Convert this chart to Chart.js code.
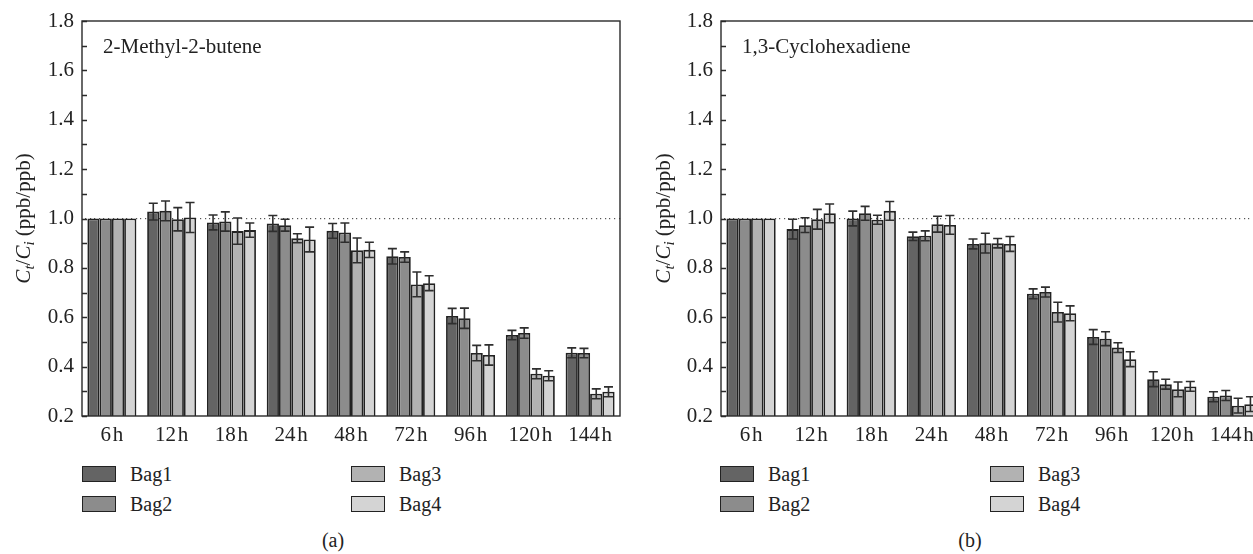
<!DOCTYPE html>
<html>
<head>
<meta charset="utf-8">
<script src="https://cdn.jsdelivr.net/npm/chart.js@4.4.1/dist/chart.umd.min.js"></script>
<style>
  html, body { margin: 0; padding: 0; background: #fff; }
  body { width: 1253px; height: 554px; overflow: hidden; position: relative; font-family: 'Liberation Serif', 'Times New Roman', serif; color: #222; }
  canvas { position: absolute; top: 0; }
  #chartA { left: 0; }
  #chartB { left: 640px; }
  .key { position: absolute; width: 32px; height: 14px; border: 1.5px solid #222; }
  .keyText { position: absolute; font-size: 20px; line-height: 20px; }
  .caption { position: absolute; font-size: 20px; top: 529px; width: 40px; text-align: center; }
</style>
</head>
<body>
<canvas id="chartA" width="640" height="460"></canvas>
<canvas id="chartB" width="622" height="460"></canvas>
<div id="legends"></div>
<div class="caption" style="left:313px">(a)</div>
<div class="caption" style="left:950px">(b)</div>

<script>
'use strict';

// Sampling times and bag names
const timeLabels = ['6\u200Ah', '12\u200Ah', '18\u200Ah', '24\u200Ah', '48\u200Ah', '72\u200Ah', '96\u200Ah', '120\u200Ah', '144\u200Ah'];
const bagNames = ['Bag1', 'Bag2', 'Bag3', 'Bag4'];
const bagColors = ['#646464', '#8c8c8c', '#b2b2b2', '#d4d4d4'];
const yTicks = [0.2, 0.4, 0.6, 0.8, 1.0, 1.2, 1.4, 1.6, 1.8];

// 2-Methyl-2-butene: Ct/Ci ratio and standard deviation per bag
const mbBag1 = [1.0, 1.028, 0.984, 0.980, 0.950, 0.847, 0.605, 0.528, 0.456];
const mbBag2 = [1.0, 1.031, 0.988, 0.973, 0.943, 0.844, 0.596, 0.536, 0.455];
const mbBag3 = [1.0, 0.997, 0.949, 0.920, 0.871, 0.733, 0.455, 0.371, 0.290];
const mbBag4 = [1.0, 1.004, 0.953, 0.915, 0.873, 0.738, 0.447, 0.363, 0.298];
const mbErr1 = [0, 0.034, 0.030, 0.032, 0.030, 0.031, 0.031, 0.019, 0.020];
const mbErr2 = [0, 0.040, 0.039, 0.024, 0.039, 0.021, 0.041, 0.021, 0.019];
const mbErr3 = [0, 0.047, 0.053, 0.018, 0.050, 0.050, 0.031, 0.020, 0.020];
const mbErr4 = [0, 0.061, 0.029, 0.050, 0.031, 0.030, 0.041, 0.020, 0.020];

// 1,3-Cyclohexadiene
const chBag1 = [1.0, 0.957, 1.000, 0.928, 0.897, 0.695, 0.520, 0.349, 0.278];
const chBag2 = [1.0, 0.973, 1.021, 0.930, 0.900, 0.702, 0.513, 0.329, 0.283];
const chBag3 = [1.0, 0.997, 0.995, 0.977, 0.900, 0.621, 0.477, 0.308, 0.242];
const chBag4 = [1.0, 1.021, 1.031, 0.974, 0.897, 0.616, 0.430, 0.320, 0.248];
const chErr1 = [0, 0.040, 0.030, 0.017, 0.020, 0.020, 0.030, 0.030, 0.020];
const chErr2 = [0, 0.030, 0.028, 0.020, 0.040, 0.020, 0.028, 0.020, 0.020];
const chErr3 = [0, 0.040, 0.018, 0.032, 0.019, 0.040, 0.020, 0.030, 0.030];
const chErr4 = [0, 0.038, 0.038, 0.038, 0.030, 0.030, 0.030, 0.020, 0.030];

const fontFamily = "'Liberation Serif', 'Times New Roman', serif";
const fontSize = 21;
const inkColor = '#2a2a2a';

// Dotted reference line at 1.0, drawn under the bars
const refLinePlugin = {
  id: 'refLine',
  beforeDatasetsDraw(chart) {
    const { ctx, chartArea } = chart;
    const y = chart.scales.y.getPixelForValue(1.0);
    ctx.save();
    ctx.fillStyle = '#555';
    for (let x = chartArea.left + 3; x < chartArea.right; x += 4.6) {
      ctx.fillRect(Math.round(x), Math.round(y) - 1, 1.2, 1.2);
    }
    ctx.restore();
  }
};

// Error bars with caps, read from dataset.errors
const errorBarPlugin = {
  id: 'errorBars',
  afterDatasetsDraw(chart) {
    const { ctx } = chart;
    const yScale = chart.scales.y;
    ctx.save();
    ctx.strokeStyle = '#2e2e2e';
    ctx.lineWidth = 1.6;
    chart.data.datasets.forEach((ds, i) => {
      const meta = chart.getDatasetMeta(i);
      meta.data.forEach((bar, j) => {
        const err = ds.errors[j];
        if (!err) return;
        const v = ds.data[j];
        const yTop = yScale.getPixelForValue(v + err);
        const yBot = yScale.getPixelForValue(v - err);
        ctx.beginPath();
        ctx.moveTo(bar.x, yTop);
        ctx.lineTo(bar.x, yBot);
        ctx.moveTo(bar.x - 4.5, yTop);
        ctx.lineTo(bar.x + 4.5, yTop);
        ctx.moveTo(bar.x - 4.5, yBot);
        ctx.lineTo(bar.x + 4.5, yBot);
        ctx.stroke();
      });
    });
    ctx.restore();
  }
};

// Frame, inward tick marks, compound name and the Ct/Ci axis title
const framePlugin = {
  id: 'frame',
  afterDraw(chart, args, opts) {
    const { ctx, chartArea } = chart;
    const yScale = chart.scales.y;
    ctx.save();
    ctx.strokeStyle = inkColor;
    ctx.lineWidth = 1.4;
    ctx.strokeRect(chartArea.left, chartArea.top, chartArea.right - chartArea.left, chartArea.bottom - chartArea.top);

    ctx.beginPath();
    for (let k = 2; k <= 18; k++) {
      const y = Math.round(yScale.getPixelForValue(k / 10)) + 0.5;
      ctx.moveTo(chartArea.left, y);
      ctx.lineTo(chartArea.left + 5, y);
    }
    ctx.stroke();

    ctx.fillStyle = '#222';
    ctx.font = fontSize + 'px ' + fontFamily;
    ctx.textBaseline = 'alphabetic';
    ctx.fillText(opts.name, chartArea.left + 21, 53);

    // rotated title: C_t / C_i (ppb/ppb)
    const parts = [
      { t: 'C', f: 'italic 21px ' + fontFamily, dy: 0 },
      { t: 't', f: 'italic 15px ' + fontFamily, dy: 4 },
      { t: '/', f: '21px ' + fontFamily, dy: 0 },
      { t: 'C', f: 'italic 21px ' + fontFamily, dy: 0 },
      { t: 'i', f: 'italic 15px ' + fontFamily, dy: 4 },
      { t: ' (ppb/ppb)', f: '21px ' + fontFamily, dy: 0 }
    ];
    let total = 0;
    parts.forEach(p => { ctx.font = p.f; p.w = ctx.measureText(p.t).width; total += p.w; });
    const cy = (chartArea.top + chartArea.bottom) / 2;
    ctx.translate(opts.titleX, cy);
    ctx.rotate(-Math.PI / 2);
    let x = -total / 2;
    parts.forEach(p => {
      ctx.font = p.f;
      ctx.fillText(p.t, x, p.dy);
      x += p.w;
    });
    ctx.restore();
  }
};

function makeDatasets(values, errors) {
  return values.map((vals, i) => ({
    label: bagNames[i],
    data: vals,
    errors: errors[i],
    backgroundColor: bagColors[i],
    borderColor: '#222',
    borderWidth: 1.8,
    borderSkipped: 'start',
    barPercentage: 1,
    categoryPercentage: 0.82
  }));
}

function makeChart(canvasId, name, values, errors, axisWidth) {
  return new Chart(document.getElementById(canvasId), {
    type: 'bar',
    data: { labels: timeLabels, datasets: makeDatasets(values, errors) },
    plugins: [refLinePlugin, errorBarPlugin, framePlugin],
    options: {
      responsive: false,
      animation: false,
      layout: { padding: { top: 21, right: canvasId === 'chartA' ? 20 : 0, bottom: 0, left: 0 } },
      plugins: {
        legend: { display: false },
        tooltip: { enabled: false },
        frame: { name: name, titleX: 30 }
      },
      scales: {
        x: {
          grid: { display: false, drawTicks: false },
          border: { display: false },
          ticks: { color: '#222', padding: 7, maxRotation: 0, autoSkip: false, font: { family: fontFamily, size: fontSize } },
          afterFit(scale) { scale.height = 44; }
        },
        y: {
          min: 0.2,
          max: 1.8,
          afterBuildTicks(scale) { scale.ticks = yTicks.map(v => ({ value: v })); },
          grid: { display: false, drawTicks: false },
          border: { display: false },
          ticks: {
            color: '#222',
            padding: 8,
            font: { family: fontFamily, size: fontSize },
            callback: v => v.toFixed(1)
          },
          afterFit(scale) { scale.width = axisWidth; }
        }
      }
    }
  });
}

makeChart('chartA', '2-Methyl-2-butene',
  [mbBag1, mbBag2, mbBag3, mbBag4], [mbErr1, mbErr2, mbErr3, mbErr4], 82);
makeChart('chartB', '1,3-Cyclohexadiene',
  [chBag1, chBag2, chBag3, chBag4], [chErr1, chErr2, chErr3, chErr4], 81);

// 2x2 legends under each panel
const legendSpots = [
  { left: 82, right: 351 },
  { left: 720, right: 990 }
];
const legends = document.getElementById('legends');
legendSpots.forEach(spot => {
  bagNames.forEach((name, i) => {
    const x = i < 2 ? spot.left : spot.right;
    const y = i % 2 === 0 ? 466 : 496;
    const box = document.createElement('div');
    box.className = 'key';
    box.style.left = x + 'px';
    box.style.top = y + 'px';
    box.style.background = bagColors[i];
    legends.appendChild(box);
    const txt = document.createElement('div');
    txt.className = 'keyText';
    txt.style.left = (x + 48) + 'px';
    txt.style.top = (y - 2) + 'px';
    txt.textContent = name;
    legends.appendChild(txt);
  });
});
</script>
</body>
</html>
